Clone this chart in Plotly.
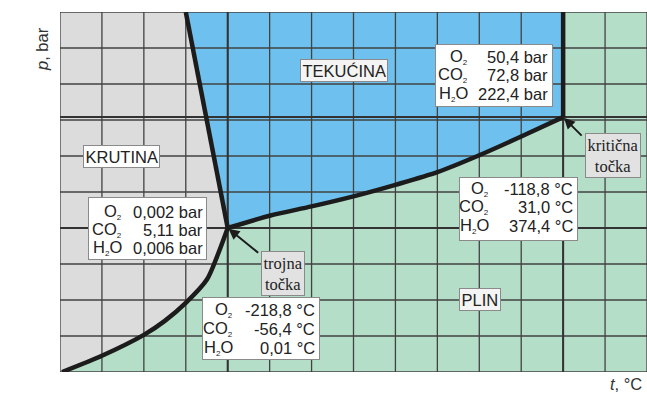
import plotly.graph_objects as go

# ---------------- data (grid units) ----------------
t_grid = list(range(0, 15))          # vertical grid lines
p_grid = list(range(0, 11))          # horizontal grid lines
triple_t, triple_p = 4.0, 4.0
crit_t, crit_p = 12.0, 7.08
sub_t = [0.05, 1.0, 2.0, 2.5, 3.0, 3.5, 3.75, 4.0]      # sublimation curve
sub_p = [0.0, 0.45, 1.03, 1.42, 1.92, 2.56, 3.22, 4.0]
melt_t = [4.0, 3.0]                                # melting line
melt_p = [4.0, 10.0]
vap_t = [4, 5, 6, 7, 8, 9, 10, 11, 12]            # vaporization curve
vap_p = [4.0, 4.34, 4.6, 4.88, 5.2, 5.55, 6.02, 6.54, 7.08]
t_max, p_max = 14, 10

SUB2 = '<sub><span style="font-size:8px">2</span></sub>'
species = ["O" + SUB2, "CO" + SUB2, "H" + SUB2 + "O"]
triple_pressure = ["0,002 bar", "5,11 bar", "0,006 bar"]
triple_temp = ["-218,8 °C", "-56,4 °C", "0,01 °C"]
crit_pressure = ["50,4 bar", "72,8 bar", "222,4 bar"]
crit_temp = ["-118,8 °C", "31,0 °C", "374,4 °C"]

GRAY = "#dcdcdc"
BLUE = "#6ec1ee"
GREEN = "#b4dec8"
INK = "#1c1c1c"
FONT = "Liberation Sans, Arial, sans-serif"
SERIF = "Liberation Serif, Times New Roman, serif"
FS = 16.5

fig = go.Figure()

# solid region
gx = [0] + sub_t + melt_t[1:] + [0]
gy = [0] + sub_p + melt_p[1:] + [p_max]
fig.add_trace(go.Scatter(x=gx, y=gy, fill="toself", fillcolor=GRAY, mode="none",
                         hoverinfo="skip", showlegend=False))
# liquid region
bx = melt_t[::-1] + vap_t + [crit_t]
by = melt_p[::-1] + vap_p + [p_max]
fig.add_trace(go.Scatter(x=bx, y=by, fill="toself", fillcolor=BLUE, mode="none",
                         hoverinfo="skip", showlegend=False))

# grid lines
lx, ly = [], []
for t in t_grid:
    lx += [t, t, None]
    ly += [0, p_max, None]
for p in p_grid:
    lx += [0, t_max, None]
    ly += [p, p, None]
fig.add_trace(go.Scatter(x=lx, y=ly, mode="lines", line=dict(color="#424242", width=1.3),
                         hoverinfo="skip", showlegend=False))
# guide lines through triple and critical point
hx = [triple_t, triple_t, None, 0, t_max, None, crit_t, crit_t, None, 0, t_max]
hy = [0, p_max, None, triple_p, triple_p, None, 0, crit_p, None, crit_p, crit_p]
fig.add_trace(go.Scatter(x=hx, y=hy, mode="lines", line=dict(color="#333333", width=2),
                         hoverinfo="skip", showlegend=False))

# phase boundaries
fig.add_trace(go.Scatter(x=sub_t, y=sub_p, mode="lines",
                         line=dict(color=INK, width=4.5, shape="spline", smoothing=0.8),
                         hoverinfo="skip", showlegend=False))
fig.add_trace(go.Scatter(x=melt_t, y=melt_p, mode="lines", line=dict(color=INK, width=4.5),
                         hoverinfo="skip", showlegend=False))
fig.add_trace(go.Scatter(x=vap_t, y=vap_p, mode="lines",
                         line=dict(color=INK, width=4.5, shape="spline", smoothing=0.8),
                         hoverinfo="skip", showlegend=False))
fig.add_trace(go.Scatter(x=[crit_t, crit_t], y=[crit_p, p_max], mode="lines",
                         line=dict(color=INK, width=4.5), hoverinfo="skip", showlegend=False))

# ---------------- annotations ----------------
L, T, W, H = 60, 12, 587, 360


def px(x):
    return (x - L) / W


def py(y):
    return (T + H - y) / H


ann = []


def box(x0, y0, x1, y1, fill="white", border="#8a8a8a"):
    ann.append(dict(xref="paper", yref="paper", x=px((x0 + x1) / 2), y=py((y0 + y1) / 2),
                    text=" ", showarrow=False, width=x1 - x0 - 2, height=y1 - y0 - 2,
                    bgcolor=fill, bordercolor=border, borderwidth=1, borderpad=0,
                    xanchor="center", yanchor="middle"))


def txt(x, y, s, anchor="right", size=FS, font=FONT):
    ann.append(dict(xref="paper", yref="paper", x=px(x), y=py(y), text=s, showarrow=False,
                    xanchor=anchor, yanchor="middle", borderpad=0,
                    font=dict(family=font, size=size, color="#222")))


def table(x0, y0, x1, y1, rows_y, lab_right, val_right, values):
    box(x0, y0, x1, y1)
    for yy, s, v in zip(rows_y, species, values):
        txt(lab_right, yy, s)
        txt(val_right, yy, v)


table(435, 44, 553, 107, [57, 75, 94], 469, 549, crit_pressure)
table(459, 177, 578, 241, [189, 207, 226], 490, 574, crit_temp)
table(88, 197, 207, 260, [212, 230, 248], 123, 204, triple_pressure)
table(202, 297, 320, 360, [310, 329, 348], 234, 316, triple_temp)


def label(cx, cy, s, fill="#f4f4f4", font=FONT, size=FS):
    ann.append(dict(xref="paper", yref="paper", x=px(cx), y=py(cy), text=s, showarrow=False,
                    xanchor="center", yanchor="middle", bgcolor=fill, bordercolor="#8a8a8a",
                    borderwidth=1, borderpad=1.5, font=dict(family=font, size=size, color="#222")))


label(121, 156, "KRUTINA", fill="white")
label(344, 70, "TEKUĆINA")
label(480, 299, "PLIN")
label(283, 273, "trojna<br>točka", fill="#e2e2e2", font=SERIF, size=16.5)
label(613, 155, "kritična<br>točka", fill="#e2e2e2", font=SERIF, size=16.5)

# arrows
ann.append(dict(x=triple_t, y=triple_p, xref="x", yref="y", text="", showarrow=True,
                ax=32, ay=26, arrowhead=2, arrowsize=1.1, arrowwidth=2, arrowcolor=INK, standoff=1))
ann.append(dict(x=crit_t, y=crit_p, xref="x", yref="y", text="", showarrow=True,
                ax=20, ay=20, arrowhead=2, arrowsize=1.1, arrowwidth=2, arrowcolor=INK, standoff=1))

# axis titles
ann.append(dict(xref="paper", yref="paper", x=px(42), y=py(49), text="<i>p</i>, bar", showarrow=False,
                textangle=-90, xanchor="center", yanchor="middle",
                font=dict(family=FONT, size=FS, color="#333")))
ann.append(dict(xref="paper", yref="paper", x=px(643), y=py(383.5), text="<i>t</i>, °C", showarrow=False,
                xanchor="right", yanchor="middle", borderpad=0,
                font=dict(family=FONT, size=FS, color="#333")))

fig.update_layout(
    width=647, height=394,
    margin=dict(l=L, r=0, t=T, b=394 - T - H),
    paper_bgcolor="white", plot_bgcolor=GREEN,
    xaxis=dict(range=[0, t_max], showgrid=False, zeroline=False, showticklabels=False,
               ticks="", fixedrange=True),
    yaxis=dict(range=[0, p_max], showgrid=False, zeroline=False, showticklabels=False,
               ticks="", fixedrange=True),
    annotations=ann,
    showlegend=False,
)

fig.write_html("out.html", post_script="document.body.style.margin='0';",
               config={"displayModeBar": False})
